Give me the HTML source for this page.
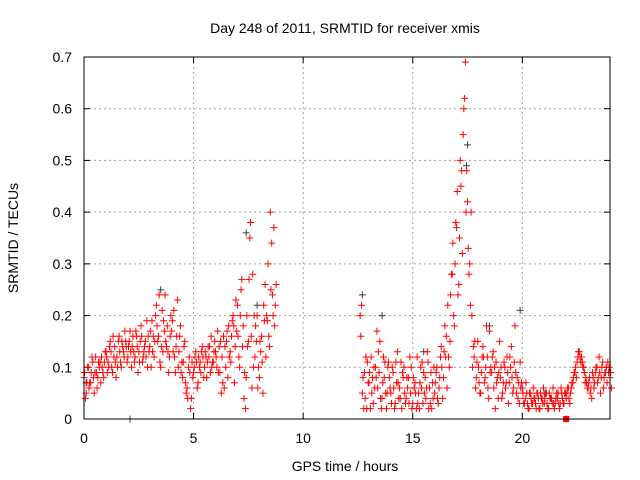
<!DOCTYPE html>
<html><head><meta charset="utf-8">
<style>
body{margin:0;background:#fff;}
svg{display:block;font-family:"Liberation Sans",Arial,sans-serif;}
</style></head>
<body>
<svg id="chart" width="640" height="480" viewBox="0 0 640 480">
<text x="345" y="33" font-size="14" text-anchor="middle" fill="#000">Day 248 of 2011, SRMTID for receiver xmis</text>
<text transform="translate(18,238) rotate(-90)" font-size="14" text-anchor="middle" fill="#000">SRMTID / TECUs</text>
<text x="345" y="471" font-size="14" text-anchor="middle" fill="#000">GPS time / hours</text>
<g id="grid"></g>
<g id="ticks"></g>
<g id="gray"></g>
<g id="red"></g>
<rect x="84" y="57" width="526" height="362" fill="none" stroke="#000" stroke-width="1"/>
</svg>
<script>
const xTicks=[0,5,10,15,20];
const yTicks=[0,0.1,0.2,0.3,0.4,0.5,0.6,0.7];
const yTickLabels=["0","0.1","0.2","0.3","0.4","0.5","0.6","0.7"];
const seg1Start=0.0, seg2Start=12.6, stepH=0.1;
const red1A=[0.08,0.05,0.10,0.07,0.11,0.09,0.06,0.10,0.12,0.08,
0.13,0.11,0.15,0.09,0.14,0.12,0.16,0.10,0.13,0.15,
0.12,0.17,0.14,0.11,0.16,0.13,0.18,0.12,0.15,0.10,
0.14,0.19,0.12,0.22,0.16,0.10,0.13,0.24,0.18,0.12,
0.17,0.21,0.14,0.10,0.18,0.08,0.15,0.06,0.12,0.04,
0.09,0.13,0.07,0.11,0.14,0.10,0.08,0.12,0.16,0.11,
0.13,0.17,0.09,0.12,0.06,0.15,0.18,0.11,0.20,0.14,
0.22,0.10,0.27,0.04,0.08,0.15,0.38,0.28,0.12,0.20,
0.08,0.16,0.22,0.12,0.30,0.40,0.24,0.18];
const red1B=[0.04,0.10,0.07,0.12,0.05,0.09,0.11,0.07,0.09,0.13,
0.09,0.14,0.10,0.12,0.08,0.15,0.11,0.14,0.17,0.11,
0.15,0.10,0.13,0.17,0.09,0.15,0.11,0.14,0.19,0.13,
0.10,0.16,0.20,0.15,0.11,0.21,0.17,0.14,0.09,0.20,
0.13,0.09,0.23,0.16,0.11,0.14,0.05,0.10,0.02,0.08,
0.12,0.06,0.10,0.13,0.08,0.12,0.14,0.09,0.11,0.15,
0.10,0.14,0.05,0.16,0.10,0.08,0.13,0.19,0.07,0.17,
0.12,0.25,0.18,0.02,0.14,0.35,0.06,0.20,0.15,0.10,
0.13,0.05,0.26,0.19,0.14,0.34,0.37,0.26];
const red1C=[0.09,0.07,0.06,0.09,0.08,0.12,0.08,0.11,0.10,0.11,
0.12,0.10,0.13,0.16,0.11,0.10,0.13,0.15,0.12,0.14,
0.14,0.13,0.16,0.12,0.14,0.11,0.16,0.13,0.12,0.16,
0.17,0.13,0.15,0.18,0.24,0.14,0.19,0.15,0.13,0.16,
0.19,0.12,0.16,0.13,0.09,0.11,0.07,0.04,0.09,0.11,
0.10,0.11,0.12,0.09,0.12,0.13,0.11,0.14,0.10,0.13,
0.12,0.09,0.15,0.07,0.14,0.17,0.12,0.16,0.18,0.23,
0.16,0.20,0.14,0.09,0.20,0.27,0.16,0.10,0.18,0.06,
0.15,0.11,0.19,0.20,0.16,0.25,0.20,0.22];
const red2A=[0.20,0.05,0.09,0.02,
0.07,0.12,0.03,0.10,0.06,0.15,0.04,0.08,0.02,0.11,
0.05,0.09,0.03,0.13,0.06,0.02,0.10,0.04,0.08,0.05,
0.03,0.07,0.12,0.02,0.06,0.09,0.04,0.11,0.03,0.07,
0.05,0.10,0.06,0.14,0.08,0.12,0.22,0.15,0.28,0.18,
0.37,0.26,0.45,0.55,0.69,0.42,0.30,0.20,0.12,0.08,
0.10,0.05,0.14,0.08,0.12,0.17,0.09,0.06,0.11,0.04,
0.08,0.05,0.10,0.12,0.07,0.14,0.06,0.09,0.04,0.11,
0.06,0.03,0.05,0.02,0.04,0.06,0.03,0.05,0.02,0.04,
0.03,0.05,0.02,0.04,0.06,0.03,0.04,0.02,0.05,0.03,
0.04,0.06,0.05,0.07,0.09,0.11,0.13,0.12,0.10,0.08,
0.06,0.05,0.09,0.07,0.10,0.12,0.08,0.06,0.09,0.11,
0.08];
const red2B=[0.22,0.02,0.12,0.07,
0.02,0.08,0.06,0.17,0.09,0.02,0.12,0.05,0.10,0.06,
0.10,0.02,0.07,0.04,0.11,0.08,0.03,0.06,0.12,0.02,
0.06,0.02,0.05,0.10,0.03,0.08,0.13,0.06,0.02,0.10,
0.09,0.03,0.12,0.04,0.18,0.06,0.10,0.28,0.20,0.38,
0.24,0.50,0.32,0.62,0.48,0.28,0.40,0.14,0.06,0.15,
0.05,0.12,0.07,0.18,0.04,0.10,0.13,0.02,0.08,0.15,
0.04,0.11,0.07,0.03,0.10,0.05,0.18,0.08,0.03,0.07,
0.03,0.07,0.02,0.05,0.03,0.04,0.05,0.02,0.04,0.06,
0.05,0.02,0.04,0.03,0.02,0.05,0.03,0.06,0.03,0.05,
0.06,0.03,0.07,0.09,0.08,0.13,0.11,0.10,0.07,0.06,
0.08,0.04,0.06,0.10,0.08,0.05,0.11,0.09,0.07,0.10,
0.06];
const red2C=[0.16,0.08,0.04,0.11,
0.09,0.05,0.10,0.08,0.13,0.04,0.07,0.11,0.05,0.08,
0.03,0.06,0.11,0.07,0.04,0.09,0.05,0.08,0.03,0.10,
0.08,0.05,0.03,0.07,0.11,0.05,0.06,0.02,0.09,0.04,
0.07,0.04,0.08,0.10,0.13,0.16,0.12,0.24,0.34,0.30,
0.44,0.35,0.48,0.60,0.40,0.33,0.22,0.10,0.15,0.11,
0.07,0.09,0.12,0.10,0.06,0.09,0.12,0.10,0.07,0.09,
0.10,0.07,0.06,0.09,0.12,0.08,0.11,0.05,0.07,0.06,
0.05,0.04,0.03,0.05,0.03,0.04,0.02,0.04,0.05,0.03,
0.04,0.03,0.05,0.04,0.03,0.04,0.05,0.03,0.04,0.05,
0.05,0.04,0.06,0.08,0.10,0.12,0.12,0.11,0.09,0.07,
0.07,0.06,0.08,0.09,0.07,0.09,0.10,0.08,0.10,0.09,
0.09];
const grayT=[0.1,2.1,3.5,7.4,7.9,12.7,13.6,15.5,17.5,17.45,18.5,19.9,21.0,22.0];
const grayV=[0.07,0.0,0.25,0.36,0.22,0.24,0.20,0.13,0.53,0.49,0.18,0.21,0.05,0.0];

const NS="http://www.w3.org/2000/svg";
const X0=84,X1=610,Y0=419,Y1=57,XMAX=24,YMAX=0.7;
function xs(v){return X0+(v/XMAX)*(X1-X0);}
function ys(v){return Y0-(v/YMAX)*(Y0-Y1);}
function mk(tag,attrs,parent){const e=document.createElementNS(NS,tag);for(const k in attrs)e.setAttribute(k,attrs[k]);parent.appendChild(e);return e;}
const grid=document.getElementById('grid'),ticks=document.getElementById('ticks');
xTicks.forEach(t=>{
  const x=xs(t);
  if(t>0){const l=mk('line',{x1:x,y1:Y1,x2:x,y2:Y0,stroke:'#a0a0a0','stroke-dasharray':'2,3'},grid);
  
  }
  mk('line',{x1:x,y1:Y0,x2:x,y2:Y0-6,stroke:'#000'},ticks);
  mk('line',{x1:x,y1:Y1,x2:x,y2:Y1+6,stroke:'#000'},ticks);
  const tx=mk('text',{x:x,y:443,'font-size':14,'text-anchor':'middle',fill:'#000'},ticks);
  tx.textContent=String(t);
  
  
});
yTicks.forEach((t,i)=>{
  const y=ys(t);
  if(t>0&&t<YMAX){const l=mk('line',{x1:X0,y1:y,x2:X1,y2:y,stroke:'#a0a0a0','stroke-dasharray':'2,3'},grid);
  
  }
  mk('line',{x1:X0,y1:y,x2:X0+6,y2:y,stroke:'#000'},ticks);
  mk('line',{x1:X1,y1:y,x2:X1-6,y2:y,stroke:'#000'},ticks);
  const tx=mk('text',{x:72,y:y+5,'font-size':14,'text-anchor':'end',fill:'#000'},ticks);
  tx.textContent=yTickLabels[i];
  
  
});
function plus(g,t,v,color){
  const x=xs(t),y=ys(v);
  const p=mk('path',{d:`M${x-3.5},${y}H${x+3.5}M${x},${y-3.5}V${y+3.5}`,stroke:color,'stroke-width':1,fill:'none'},g);
  
  
}
const gg=document.getElementById('gray'),rg=document.getElementById('red');
grayT.forEach((t,i)=>plus(gg,t,grayV[i],'#404040'));
red1A.forEach((v,i)=>plus(rg,seg1Start+i*stepH,v,'#ff0000'));
red1C.forEach((v,i)=>plus(rg,seg1Start+i*stepH+0.03,v,'#ff0000'));
red1B.forEach((v,i)=>plus(rg,seg1Start+i*stepH+0.065,v,'#ff0000'));
red2A.forEach((v,i)=>plus(rg,seg2Start+i*stepH,v,'#ff0000'));
red2C.forEach((v,i)=>plus(rg,seg2Start+i*stepH+0.03,v,'#ff0000'));
red2B.forEach((v,i)=>plus(rg,seg2Start+i*stepH+0.065,v,'#ff0000'));
const sq=mk('rect',{x:xs(22.0)-3,y:ys(0)-3,width:6,height:6,fill:'#ff0000'},rg);


</script>
</body></html>
